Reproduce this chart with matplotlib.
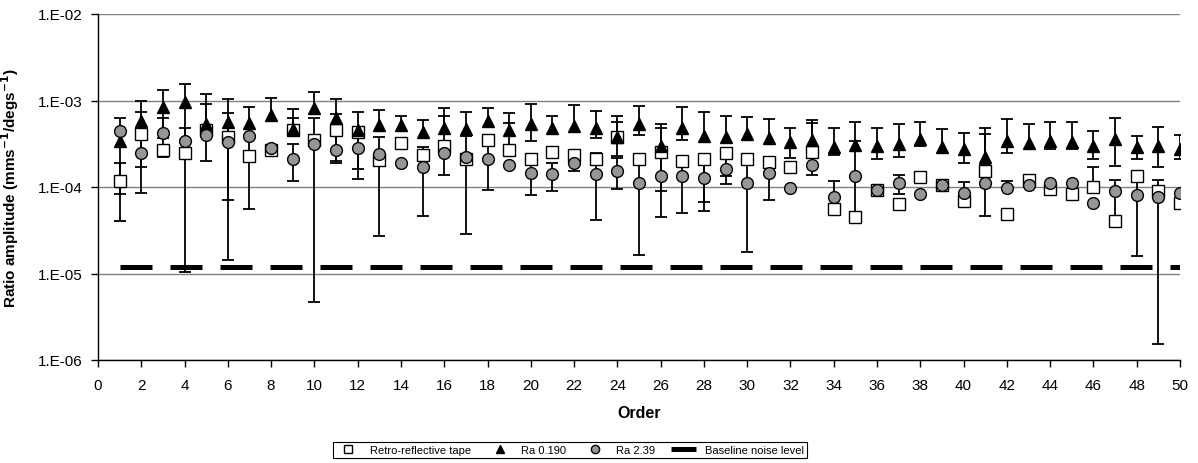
import numpy as np
import matplotlib
matplotlib.use("Agg")
from matplotlib import pyplot as plt
from matplotlib.ticker import FuncFormatter, NullLocator, FixedLocator

plt.rcParams['font.family'] = ['Liberation Sans', 'DejaVu Sans']

orders = list(range(1, 51))

# amplitude values
tape = [1.17e-4, 4.1e-4, 2.65e-4, 2.5e-4, 4.5e-4, 3.75e-4, 2.3e-4, 2.65e-4, 4.6e-4, 3.45e-4,
        4.5e-4, 4.35e-4, 2.05e-4, 3.2e-4, 2.33e-4, 3.0e-4, 2.1e-4, 3.5e-4, 2.7e-4, 2.1e-4,
        2.55e-4, 2.35e-4, 2.1e-4, 3.75e-4, 2.1e-4, 2.55e-4, 2.0e-4, 2.1e-4, 2.45e-4, 2.1e-4,
        1.95e-4, 1.7e-4, 2.55e-4, 5.6e-5, 4.5e-5, 9.2e-5, 6.4e-5, 1.3e-4, 1.06e-4, 6.9e-5,
        1.55e-4, 4.9e-5, 1.2e-4, 9.6e-5, 8.3e-5, 1.0e-4, 4.0e-5, 1.34e-4, 8.9e-5, 6.6e-5]
ra0190 = [3.4e-4, 5.75e-4, 8.4e-4, 9.6e-4, 5.4e-4, 5.6e-4, 5.5e-4, 6.8e-4, 4.7e-4, 8.1e-4,
          6.2e-4, 4.5e-4, 5.2e-4, 5.2e-4, 4.35e-4, 4.8e-4, 4.7e-4, 5.75e-4, 4.5e-4, 5.4e-4,
          4.8e-4, 5.1e-4, 4.8e-4, 3.8e-4, 5.3e-4, 3.0e-4, 4.8e-4, 3.9e-4, 3.8e-4, 4.05e-4,
          3.7e-4, 3.3e-4, 3.5e-4, 2.9e-4, 3.05e-4, 3.0e-4, 3.15e-4, 3.55e-4, 2.9e-4, 2.75e-4,
          2.25e-4, 3.4e-4, 3.2e-4, 3.4e-4, 3.35e-4, 2.95e-4, 3.6e-4, 2.9e-4, 3.0e-4, 2.75e-4]
ra239 = [4.45e-4, 2.5e-4, 4.2e-4, 3.4e-4, 3.95e-4, 3.3e-4, 3.9e-4, 2.8e-4, 2.1e-4, 3.1e-4,
         2.65e-4, 2.8e-4, 2.4e-4, 1.9e-4, 1.7e-4, 2.45e-4, 2.2e-4, 2.1e-4, 1.8e-4, 1.45e-4,
         1.4e-4, 1.9e-4, 1.43e-4, 1.55e-4, 1.1e-4, 1.35e-4, 1.35e-4, 1.28e-4, 1.62e-4, 1.1e-4,
         1.45e-4, 9.8e-5, 1.8e-4, 7.7e-5, 1.33e-4, 9.2e-5, 1.1e-4, 8.3e-5, 1.06e-4, 8.6e-5,
         1.12e-4, 9.8e-5, 1.06e-4, 1.1e-4, 1.1e-4, 6.6e-5, 9.0e-5, 8.1e-5, 7.6e-5, 8.5e-5]
noise_level = 1.2e-5

# error bar ends (None = no bar on that side)
N = None
tape_hi = [1.9e-4, 7.3e-4, N, 4.87e-4, 9.2e-4, N, 3.9e-4, N, 6.2e-4, N,
           7.0e-4, N, 3.8e-4, N, N, 6.7e-4, 3.9e-4, N, 5.5e-4, N,
           N, N, N, 5.7e-4, N, 4.8e-4, N, N, N, N,
           N, N, 5.5e-4, N, 3.4e-4, N, N, N, N, N,
           4.1e-4, N, N, N, N, 1.7e-4, 9.0e-5, N, N, N]
tape_lo = [4.0e-5, 8.5e-5, N, 1.04e-5, 2.0e-4, N, 5.5e-5, N, N, N,
           1.87e-4, N, 2.7e-5, N, N, 1.36e-4, 2.9e-5, N, N, N,
           N, N, N, N, N, 8.9e-5, N, 6.7e-5, 1.33e-4, N,
           N, N, N, N, N, N, N, N, N, N,
           N, N, N, N, N, N, N, N, N, N]
ra0190_hi = [6.2e-4, 9.9e-4, 1.31e-3, 1.57e-3, 1.19e-3, 1.05e-3, 8.5e-4, 1.08e-3, 7.9e-4, 1.26e-3,
             1.05e-3, 7.4e-4, 7.7e-4, 6.6e-4, 5.9e-4, 8.2e-4, 7.4e-4, 8.2e-4, 7.2e-4, 9.0e-4,
             6.7e-4, 8.8e-4, 7.6e-4, 6.6e-4, 8.6e-4, 5.4e-4, 8.3e-4, 7.3e-4, 6.6e-4, 6.4e-4,
             6.1e-4, 4.75e-4, 5.9e-4, 4.75e-4, 5.6e-4, 4.85e-4, 5.4e-4, 5.7e-4, 4.65e-4, 4.2e-4,
             4.75e-4, 6.1e-4, 5.4e-4, 5.7e-4, 5.7e-4, 4.4e-4, 6.2e-4, 3.9e-4, 4.95e-4, 4.0e-4]
ra0190_lo = [8.3e-5, 1.7e-4, 3.7e-4, 3.5e-4, N, 7.0e-5, N, N, N, N,
             2.0e-4, 1.63e-4, N, N, N, N, N, N, N, 3.4e-4,
             N, N, 3.7e-4, 2.3e-4, 4.0e-4, N, 3.5e-4, N, N, N,
             N, 2.15e-4, N, 2.37e-4, N, 2.1e-4, 2.2e-4, 2.95e-4, N, 1.9e-4,
             N, 2.5e-4, N, 2.75e-4, 2.78e-4, 2.13e-4, 1.75e-4, 2.1e-4, 1.7e-4, 2.1e-4]
ra239_hi = [N, N, 6.2e-4, N, N, 7.2e-4, N, N, 3.1e-4, 6.2e-4,
            N, 4.3e-4, N, N, 2.9e-4, N, N, 3.3e-4, N, 2.1e-4,
            1.9e-4, 2.25e-4, 2.45e-4, 2.15e-4, 2.0e-4, 2.25e-4, 2.2e-4, 2.0e-4, N, 2.0e-4,
            2.2e-4, N, 2.24e-4, 1.17e-4, N, N, 1.36e-4, N, N, 1.14e-4,
            1.78e-4, 1.16e-4, N, N, N, N, 1.22e-4, 1.46e-4, 1.2e-4, N]
ra239_lo = [N, N, 2.2e-4, N, N, 1.45e-5, N, N, 1.18e-4, 4.7e-6,
            N, 1.25e-4, N, N, 4.6e-5, N, N, 9.2e-5, N, 8.0e-5,
            8.9e-5, 1.55e-4, 4.2e-5, 9.4e-5, 1.65e-5, 4.5e-5, 5.0e-5, 5.3e-5, 1.07e-4, 1.75e-5,
            7.0e-5, N, 1.36e-4, N, N, N, 8.4e-5, N, N, N,
            4.6e-5, N, N, N, N, N, N, 1.6e-5, 1.53e-6, N]

labels = ["Retro-reflective tape", "Ra 0.190", "Ra 2.39", "Baseline noise level"]


def ends(vals, side):
    v = np.array(vals, dtype=float)
    s = np.array([np.nan if e is None else e for e in side], dtype=float)
    return np.where(np.isnan(s), v, s)


fig = plt.figure(figsize=(11.98, 4.64), dpi=100)
ax = fig.add_axes([98 / 1198, 1 - 361 / 464, (1180 - 98) / 1198, (361 - 15) / 464])

x = np.array(orders)
series = [
    (tape, tape_hi, tape_lo, dict(marker='s', mfc='white', ms=8.5), 4),
    (ra0190, ra0190_hi, ra0190_lo, dict(marker='^', mfc='black', ms=9), 5),
    (ra239, ra239_hi, ra239_lo, dict(marker='o', mfc='#969696', ms=8.5), 6),
]

for vals, hi, lo, mk, z in series:
    v = np.array(vals)
    top = ends(vals, hi)
    bot = ends(vals, lo)
    ax.errorbar(x, v, yerr=[v - bot, top - v], fmt='none', ecolor='black',
                elinewidth=1.3, capsize=0, zorder=2)
    has_top = top != v
    has_bot = bot != v
    ax.plot(x[has_top], top[has_top], ls='none', marker='_', ms=8, mew=1.3,
            color='black', zorder=2)
    ax.plot(x[has_bot], bot[has_bot], ls='none', marker='_', ms=8, mew=1.3,
            color='black', zorder=2)

handles = []
for (vals, hi, lo, mk, z), lab in zip(series, labels[:3]):
    h, = ax.plot(x, vals, ls='none', mec='black', mew=1.0, label=lab, zorder=z, **mk)
    handles.append(h)

base, = ax.plot(x, [noise_level] * len(orders), color='black', lw=3.6,
                dashes=(6.4, 3.6), dash_capstyle='butt', label=labels[3], zorder=3)
handles.append(base)

ax.set_yscale('log')
ax.set_ylim(1e-6, 1e-2)
ax.set_xlim(0, 50)
ax.xaxis.set_major_locator(FixedLocator(range(0, 51, 2)))
ax.yaxis.set_major_locator(FixedLocator([1e-6, 1e-5, 1e-4, 1e-3, 1e-2]))
ax.yaxis.set_minor_locator(NullLocator())
ax.yaxis.set_major_formatter(FuncFormatter(lambda v, p: "1.E%03d" % int(round(np.log10(v)))))
ax.grid(axis='y', color='#808080', lw=1.0)
ax.set_axisbelow(True)
for s in ['top', 'right']:
    ax.spines[s].set_visible(False)
for s in ['left', 'bottom']:
    ax.spines[s].set_linewidth(1.0)
ax.tick_params(direction='out', length=5, width=1, labelsize=11)
ax.tick_params(axis='x', pad=8)
ax.tick_params(axis='y', pad=6)

ax.set_xlabel("Order", fontsize=11.5, fontweight='bold', labelpad=9)
ax.set_ylabel("Ratio amplitude (mms$^{\\mathbf{-1}}$/degs$^{\\mathbf{-1}}$)",
              fontsize=11, fontweight='bold', labelpad=12)

leg = fig.legend(handles=handles, labels=labels, loc='center', ncol=4,
                 bbox_to_anchor=(570 / 1198, 1 - 451 / 464), fontsize=8,
                 frameon=True, fancybox=False, edgecolor='black', framealpha=1,
                 borderpad=0.3, handlelength=2.2, columnspacing=1.5, markerscale=0.7)
leg.get_frame().set_linewidth(0.8)

fig.savefig("out.png", dpi=100)
